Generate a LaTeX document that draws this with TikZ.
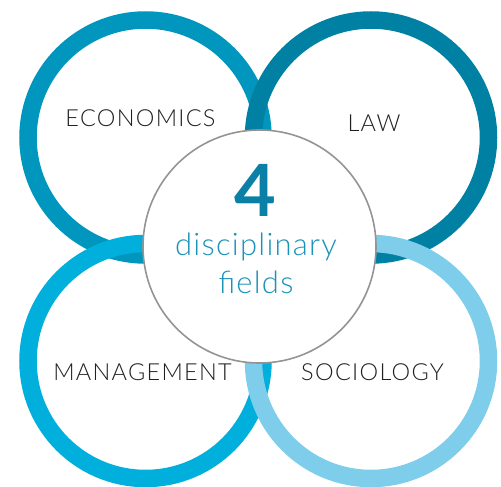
\documentclass[tikz,border=0pt]{standalone}
\usepackage{fontspec}
\setmainfont{Lato}
\newfontfamily\labelfont[LetterSpace=5.5]{Lato Light}
\newfontfamily\midfont[LetterSpace=4]{Lato Light}
\definecolor{econ}{HTML}{0096BD}
\definecolor{law}{HTML}{0080A2}
\definecolor{mgmt}{HTML}{00AFDB}
\definecolor{soc}{HTML}{7ECDEB}
\definecolor{fourc}{HTML}{0B80A6}
\definecolor{txtc}{HTML}{1B92B8}
\definecolor{labc}{HTML}{231F20}
\begin{document}
\begin{tikzpicture}[x=1pt,y=-1pt,
  ring/.style={circle,draw,line width=17.5pt,minimum size=235pt,inner sep=0pt},
  lab/.style={font=\labelfont\fontsize{23.5}{25}\selectfont,text=labc,inner sep=0pt},
  hub/.style={circle,fill=white,draw=black!42,line width=1.6pt,minimum size=233pt,inner sep=0pt}]
\useasboundingbox (0,0) rectangle (501,487);
\node[ring,draw=econ] (econring) at (145.5,137.5) {};
\node[ring,draw=law]  (lawring)  at (371,137.5) {};
\node[ring,draw=mgmt] (mgmtring) at (145.5,361) {};
\node[ring,draw=soc]  (socring)  at (371,361) {};
\node[hub] (hub) at (259.5,246.5) {};
\node[lab] (econ) at (140.5,118) {ECONOMICS};
\node[lab] (law) at (374,123) {LAW};
\node[lab] (mgmt) at (142.5,372) {MANAGEMENT};
\node[lab] (soc) at (372.5,372) {SOCIOLOGY};
\node[font=\bfseries\fontsize{72}{72}\selectfont,text=fourc,inner sep=0pt,anchor=base] (four) at (255,216) {4};
\node[font=\midfont\fontsize{31}{32}\selectfont,text=txtc,inner sep=0pt,anchor=base] (disc) at (256,255) {disciplinary};
\node[font=\midfont\fontsize{31}{32}\selectfont,text=txtc,inner sep=0pt,anchor=base] (fields) at (256,293) {fields};
\end{tikzpicture}
\end{document}
